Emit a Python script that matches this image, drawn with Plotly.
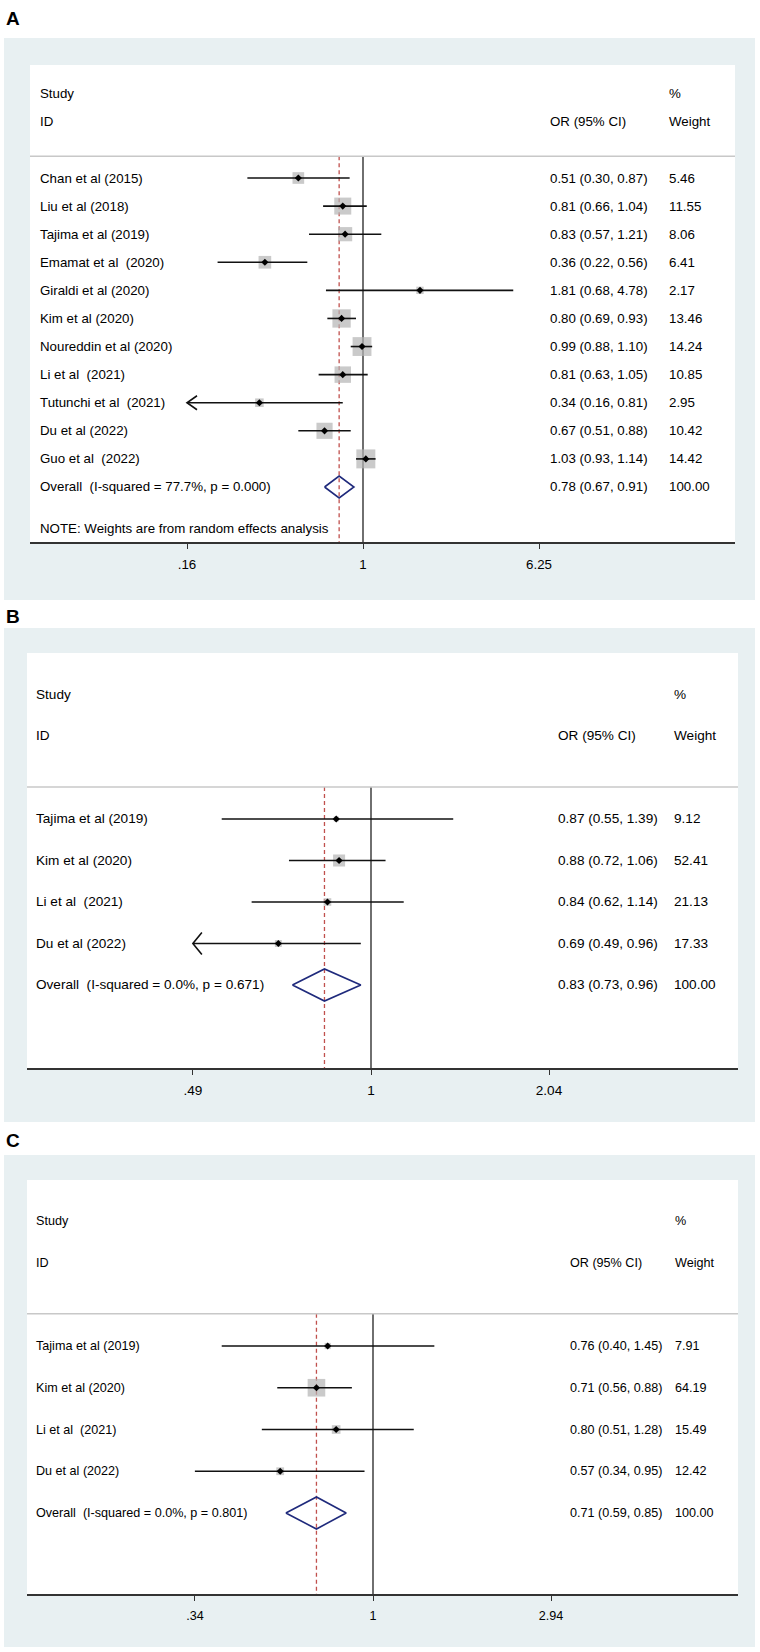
import math
import plotly.graph_objects as go

# ---------------- DATA ----------------
# Panel A
A_studies = ["Chan et al (2015)", "Liu et al (2018)", "Tajima et al (2019)", "Emamat et al \u00a0(2020)",
             "Giraldi et al (2020)", "Kim et al (2020)", "Noureddin et al (2020)", "Li et al \u00a0(2021)",
             "Tutunchi et al \u00a0(2021)", "Du et al (2022)", "Guo et al \u00a0(2022)"]
A_or = [0.51, 0.81, 0.83, 0.36, 1.81, 0.80, 0.99, 0.81, 0.34, 0.67, 1.03]
A_lo = [0.30, 0.66, 0.57, 0.22, 0.68, 0.69, 0.88, 0.63, 0.16, 0.51, 0.93]
A_hi = [0.87, 1.04, 1.21, 0.56, 4.78, 0.93, 1.10, 1.05, 0.81, 0.88, 1.14]
A_weight = [5.46, 11.55, 8.06, 6.41, 2.17, 13.46, 14.24, 10.85, 2.95, 10.42, 14.42]
A_clipped = [False, False, False, False, False, False, False, False, True, False, False]
A_overall = [0.78, 0.67, 0.91]
A_overall_weight = 100.00
A_overall_label = "Overall \u00a0(I-squared = 77.7%, p = 0.000)"
A_note = "NOTE: Weights are from random effects analysis"
A_ticks = [0.16, 1, 6.25]
A_ticklabels = [".16", "1", "6.25"]

# Panel B
B_studies = ["Tajima et al (2019)", "Kim et al (2020)", "Li et al \u00a0(2021)", "Du et al (2022)"]
B_or = [0.87, 0.88, 0.84, 0.69]
B_lo = [0.55, 0.72, 0.62, 0.49]
B_hi = [1.39, 1.06, 1.14, 0.96]
B_weight = [9.12, 52.41, 21.13, 17.33]
B_clipped = [False, False, False, True]
B_overall = [0.83, 0.73, 0.96]
B_overall_weight = 100.00
B_overall_label = "Overall \u00a0(I-squared = 0.0%, p = 0.671)"
B_ticks = [0.49, 1, 2.04]
B_ticklabels = [".49", "1", "2.04"]

# Panel C
C_studies = ["Tajima et al (2019)", "Kim et al (2020)", "Li et al \u00a0(2021)", "Du et al (2022)"]
C_or = [0.76, 0.71, 0.80, 0.57]
C_lo = [0.40, 0.56, 0.51, 0.34]
C_hi = [1.45, 0.88, 1.28, 0.95]
C_weight = [7.91, 64.19, 15.49, 12.42]
C_clipped = [False, False, False, False]
C_overall = [0.71, 0.59, 0.85]
C_overall_weight = 100.00
C_overall_label = "Overall \u00a0(I-squared = 0.0%, p = 0.801)"
C_ticks = [0.34, 1, 2.94]
C_ticklabels = [".34", "1", "2.94"]

# ---------------- LAYOUT / STYLE ----------------
W, H = 760, 1652
FONT = "Liberation Sans, Arial, Helvetica, sans-serif"
TXT = "#000000"
OUTER_BG = "#e8f0f2"
BOX_GRAY = "#b3b3b3"
NAVY = "#1f2a7c"
RED = "#c0504d"

GEOM = {
    "A": dict(outer=(4, 38, 755, 600), inner=(30, 65, 735, 542), one=363, ppl=96.04,
              row0=178, rowh=28.09, lab=38, orx=548, wtx=667, fs=13.3, letter_y=18,
              box=5.0, arrow=(10, 7), dh=11, note_row=12.46),
    "B": dict(outer=(4, 628, 755, 1122), inner=(27, 653, 738, 1068), one=371, ppl=249.7,
              row0=819, rowh=41.5, lab=34, orx=556, wtx=672, fs=13.6, letter_y=617,
              box=1.66, arrow=(9, 11), dh=16, note_row=None),
    "C": dict(outer=(4, 1155, 755, 1647), inner=(27, 1180, 738, 1594), one=373, ppl=165.1,
              row0=1346, rowh=41.75, lab=34, orx=568, wtx=673, fs=12.6, letter_y=1140,
              box=2.2, arrow=(9, 11), dh=16, note_row=None),
}

PANELS = [
    ("A", A_studies, A_or, A_lo, A_hi, A_weight, A_clipped, A_overall, A_overall_weight, A_overall_label, A_ticks, A_ticklabels),
    ("B", B_studies, B_or, B_lo, B_hi, B_weight, B_clipped, B_overall, B_overall_weight, B_overall_label, B_ticks, B_ticklabels),
    ("C", C_studies, C_or, C_lo, C_hi, C_weight, C_clipped, C_overall, C_overall_weight, C_overall_label, C_ticks, C_ticklabels),
]

fig = go.Figure()
shapes = []
annotations = []
layout_axes = {}
LOG10E = math.log10(math.e)
HEADER_ROW = -0.77

for i, (name, studies, ors, los, his, wts, clipped, overall, ov_w, ov_label, ticks, ticklabels) in enumerate(PANELS):
    g = GEOM[name]
    sfx = "" if i == 0 else str(i + 1)
    xref, yref = "x" + sfx, "y" + sfx
    il, it, ir, ib = g["inner"]
    ol, ot, orr, ob = g["outer"]
    n = len(studies)
    rows = list(range(n))
    ov_row = n
    y_bottom = (ib - g["row0"]) / g["rowh"]
    y_top = (it - g["row0"]) / g["rowh"]

    # axes
    layout_axes["xaxis" + sfx] = dict(
        type="log", domain=[il / W, ir / W],
        range=[LOG10E * (il - g["one"]) / g["ppl"], LOG10E * (ir - g["one"]) / g["ppl"]],
        anchor=yref, showgrid=False, zeroline=False, showline=True, linecolor="#333333",
        linewidth=1.6, ticks="outside", ticklen=5, tickwidth=1, tickcolor="#333333",
        tickvals=ticks, ticktext=ticklabels, ticklabelstandoff=4,
        tickfont=dict(family=FONT, size=g["fs"], color=TXT), fixedrange=True)
    layout_axes["yaxis" + sfx] = dict(
        domain=[(H - ib) / H, (H - it) / H], range=[y_bottom, y_top], anchor=xref,
        visible=False, showgrid=False, zeroline=False, fixedrange=True)

    # background panels
    shapes.append(dict(type="rect", xref="paper", yref="paper", x0=ol / W, x1=orr / W,
                       y0=1 - ob / H, y1=1 - ot / H, fillcolor=OUTER_BG, line=dict(width=0), layer="below"))
    shapes.append(dict(type="rect", xref="paper", yref="paper", x0=il / W, x1=ir / W,
                       y0=1 - ib / H, y1=1 - it / H, fillcolor="white", line=dict(width=0), layer="below"))
    # header separator
    shapes.append(dict(type="line", xref="paper", yref=yref, x0=il / W, x1=ir / W,
                       y0=HEADER_ROW, y1=HEADER_ROW, line=dict(color="#c8c8c8", width=1.5)))

    # null line
    fig.add_trace(go.Scatter(x=[1, 1], y=[HEADER_ROW, y_bottom], mode="lines",
                             line=dict(color="#222222", width=1.3), xaxis=xref, yaxis=yref,
                             showlegend=False, hoverinfo="skip"))
    # pooled estimate dashed line
    fig.add_trace(go.Scatter(x=[overall[0], overall[0]], y=[HEADER_ROW, y_bottom], mode="lines",
                             line=dict(color=RED, width=1.3, dash="4px,3px"), xaxis=xref, yaxis=yref,
                             showlegend=False, hoverinfo="skip"))

    # weight boxes
    fig.add_trace(go.Scatter(x=ors, y=rows, mode="markers",
                             marker=dict(symbol="square", color=BOX_GRAY,
                                         size=[g["box"] * math.sqrt(w) for w in wts], line=dict(width=0)),
                             xaxis=xref, yaxis=yref, showlegend=False, hoverinfo="skip"))
    # CI lines
    cx, cy = [], []
    for r, lo, hi in zip(rows, los, his):
        cx += [lo, hi, None]
        cy += [r, r, None]
    fig.add_trace(go.Scatter(x=cx, y=cy, mode="lines", line=dict(color="#111111", width=1.6),
                             xaxis=xref, yaxis=yref, showlegend=False, hoverinfo="skip"))
    # arrows for truncated CIs
    ax_, ay_ = [], []
    dx, dy = g["arrow"]
    for r, lo, c in zip(rows, los, clipped):
        if c:
            xa = lo * math.exp(dx / g["ppl"])
            ax_ += [xa, lo, xa, None]
            ay_ += [r - dy / g["rowh"], r, r + dy / g["rowh"], None]
    if ax_:
        fig.add_trace(go.Scatter(x=ax_, y=ay_, mode="lines", line=dict(color="#111111", width=1.6),
                                 xaxis=xref, yaxis=yref, showlegend=False, hoverinfo="skip"))
    # point estimates
    fig.add_trace(go.Scatter(x=ors, y=rows, mode="markers",
                             marker=dict(symbol="diamond", color="#000000", size=5.5, line=dict(width=0)),
                             xaxis=xref, yaxis=yref, showlegend=False, hoverinfo="skip"))
    # overall diamond
    est, olo, ohi = overall
    hh = g["dh"] / g["rowh"]
    fig.add_trace(go.Scatter(x=[olo, est, ohi, est, olo], y=[ov_row, ov_row - hh, ov_row, ov_row + hh, ov_row],
                             mode="lines", line=dict(color=NAVY, width=1.6),
                             xaxis=xref, yaxis=yref, showlegend=False, hoverinfo="skip"))

    # text
    def txt(x_px, row, s, size=g["fs"]):
        annotations.append(dict(xref="paper", yref=yref, x=x_px / W, y=row, text=s,
                                showarrow=False, xanchor="left", yanchor="middle",
                                font=dict(family=FONT, size=size, color=TXT)))

    txt(g["lab"], -3, "Study")
    txt(g["lab"], -2, "ID")
    txt(g["orx"], -2, "OR (95% CI)")
    txt(g["wtx"], -3, "%")
    txt(g["wtx"], -2, "Weight")
    for r, s, o, lo, hi, w in zip(rows, studies, ors, los, his, wts):
        txt(g["lab"], r, s)
        txt(g["orx"], r, "%.2f (%.2f, %.2f)" % (o, lo, hi))
        txt(g["wtx"], r, "%.2f" % w)
    txt(g["lab"], ov_row, ov_label)
    txt(g["orx"], ov_row, "%.2f (%.2f, %.2f)" % (est, olo, ohi))
    txt(g["wtx"], ov_row, "%.2f" % ov_w)
    if g["note_row"] is not None:
        txt(g["lab"], g["note_row"], A_note)

    # panel letter
    annotations.append(dict(xref="paper", yref="paper", x=4 / W, y=1 - g["letter_y"] / H,
                            text="<b>%s</b>" % name, showarrow=False, xanchor="left", yanchor="middle",
                            font=dict(family=FONT, size=19, color=TXT)))

fig.update_layout(
    width=W, height=H, margin=dict(l=0, r=0, t=0, b=0),
    paper_bgcolor="white", plot_bgcolor="rgba(0,0,0,0)",
    shapes=shapes, annotations=annotations, showlegend=False,
    **layout_axes,
)

fig.write_html("out.html", config={"displayModeBar": False},
               post_script="document.body.style.margin='0';document.body.style.padding='0';")
